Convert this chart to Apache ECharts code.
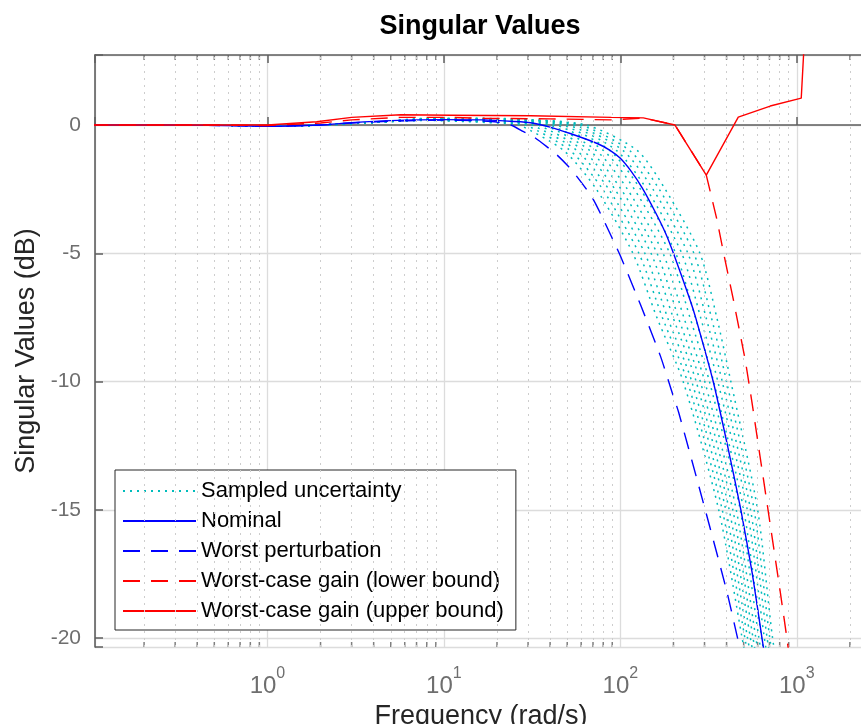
<!DOCTYPE html>
<html>
<head>
<meta charset="utf-8">
<title>Singular Values</title>
<script src="https://cdn.jsdelivr.net/npm/echarts@6/dist/echarts.min.js"></script>
<style>
html, body { margin: 0; padding: 0; background: #fff; }
#chart { width: 861px; height: 724px; }
</style>
</head>
<body>
<div id="chart"></div>
<script>
// frequencies in rad/s, magnitudes in dB
const nominal = [[0.1,0],[0.3,0],[0.7,-0.03],[1,-0.05],[2,0],[3,0.09],[5,0.17],[10,0.21],[17,0.2],[25,0.14],[31,0.09],
  [40,-0.08],[52,-0.33],[74,-0.72],[87,-0.98],[100,-1.3],[115,-1.8],[133,-2.45],[158,-3.4],[180,-4.2],[200,-5.0],
  [249,-6.84],[267,-7.5],[336,-10],[405,-12.5],[482,-15],[560,-17.5],[635,-20],[741,-23]]
const worstPert = [[0.1,0],[0.3,0],[0.7,-0.03],[1,-0.05],[2,0],[3,0.08],[5,0.15],[10,0.19],[15,0.17],[20,0.12],[24,0],
  [28.3,-0.26],[32.3,-0.46],[38.4,-0.85],[43.8,-1.17],[51,-1.63],[56.9,-2.02],[64.8,-2.54],[70.6,-2.93],[78.8,-3.58],
  [100,-5.1],[130,-7.0],[168.6,-9.0],[196,-10.4],[214,-11.2],[300,-14.9],[402,-18.2],[458,-19.9],[520,-21.5]]
const wcLower = [[0.1,0],[0.5,0],[1,-0.02],[2,0.08],[3,0.2],[5.7,0.3],[11,0.3],[17,0.26],[40,0.24],[90,0.2],[135,0.27],
  [204,0],[307,-1.95],[353,-3.7],[385,-5.0],[438,-6.84],[511,-9.18],[557,-10.8],[806,-18.2],[879,-20.0],[1000,-23]]
const wcUpper = [[0.1,0],[0.5,0],[1,0],[1.9,0.13],[3,0.3],[5.7,0.4],[11,0.38],[31,0.36],[89,0.3],[135,0.28],[204,0],
  [307,-1.95],[466,0.31],[707,0.74],[1060,1.05],[1600,24]]

// sampled uncertainty: common low-frequency part, then per-sample values
const sampleLowFreqs = [0.1, 0.5, 1, 2, 4]
const sampleLowVals = [0, 0, -0.05, 0, 0.1]
const sampleAt8 = [0.18, 0.2, 0.19, 0.22, 0.21, 0.23, 0.22, 0.24, 0.23, 0.25, 0.24, 0.26]
const sampleAt15 = [0.12, 0.14, 0.15, 0.17, 0.18, 0.2, 0.21, 0.22, 0.23, 0.24, 0.25, 0.26]
const sampleAt25 = [0.04, 0.07, 0.1, 0.12, 0.14, 0.16, 0.18, 0.19, 0.2, 0.22, 0.23, 0.24]
const sampleLevels = [0, -1, -2.5, -5, -7.5, -10, -15, -20, -23]
// frequency at which each sample reaches sampleLevels
const sampleCrossings = [
  [27.0, 47.9, 73.1, 117.8, 161, 227, 361, 490, 586],
  [29.3, 52.1, 79.3, 127.4, 173, 240, 378, 508, 607],
  [31.6, 56.8, 85.9, 137.7, 185, 254, 396, 526, 628],
  [34.2, 61.8, 93.1, 149.3, 199, 269, 414, 546, 650],
  [37.0, 67.3, 100.9, 161.4, 213, 284, 434, 565, 671],
  [40.0, 73.3, 109.6, 174.6, 229, 301, 454, 586, 695],
  [43.3, 80.5, 120, 190.5, 248, 320, 478, 610, 723],
  [46.8, 87.5, 130, 206, 266, 338, 500, 632, 748],
  [50.6, 95.3, 141, 222.8, 285, 357, 524, 655, 773],
  [54.7, 103.8, 153, 241.5, 306, 378, 547, 679, 800],
  [59.2, 113, 166, 261.2, 328, 400, 573, 703, 828],
  [64.0, 125, 179.5, 282.5, 352, 423, 600, 729, 857]
]

const minorTicks = [0.2,0.3,0.4,0.5,0.6,0.7,0.8,0.9, 2,3,4,5,6,7,8,9, 20,30,40,50,60,70,80,90,
  200,300,400,500,600,700,800,900, 2000]

const xMin = 0.1054, xMax = 2500
const yMin = -20.35, yMax = 2.73

const font = 'Liberation Sans'
const axisGray = '#5f5f5f'
const tickText = '#6e6e6e'
const dashed = [17, 11]

const chart = echarts.init(document.getElementById('chart'))

const series = []
sampleCrossings.forEach((row, i) => {
  const pts = sampleLowFreqs.map((f, k) => [f, sampleLowVals[k]])
  pts.push([8, sampleAt8[i]], [15, sampleAt15[i]], [25, sampleAt25[i]])
  row.forEach((f, k) => pts.push([f, sampleLevels[k]]))
  series.push({
    name: 'Sampled uncertainty', type: 'line', data: pts, symbol: 'none', z: 3,
    smooth: 0.25,
    lineStyle: { color: '#00bcbc', width: 1.5, type: [2, 5] }
  })
})
series.push({
  name: 'Nominal', type: 'line', data: nominal, symbol: 'none', z: 4,
  smooth: 0.2,
  lineStyle: { color: '#0000ff', width: 1.4 }
})
series.push({
  name: 'Worst perturbation', type: 'line', data: worstPert, symbol: 'none', z: 4,
  smooth: 0.2,
  lineStyle: { color: '#0000ff', width: 1.4, type: dashed }
})
series.push({
  name: 'Worst-case gain (lower bound)', type: 'line', data: wcLower, symbol: 'none', z: 5,
  lineStyle: { color: '#ff0000', width: 1.4, type: dashed }
})
series.push({
  name: 'Worst-case gain (upper bound)', type: 'line', data: wcUpper, symbol: 'none', z: 6,
  lineStyle: { color: '#ff0000', width: 1.4 }
})
// minor ticks (bottom and top) plus the dotted minor grid
series.push({
  type: 'scatter', silent: true, z: 2, clip: false,
  symbol: 'rect', symbolSize: [1.5, 5],
  data: minorTicks.map(v => ({ value: [v, yMin], symbolOffset: [0, -2.5] }))
    .concat(minorTicks.map(v => ({ value: [v, yMax], symbolOffset: [0, 2.5] }))),
  itemStyle: { color: axisGray },
  markLine: {
    silent: true, symbol: 'none', label: { show: false },
    lineStyle: { color: '#cdcdcd', width: 1, type: [2, 5] },
    data: minorTicks.map(v => ({ xAxis: v }))
  }
})

const xLabelFormatter = v => {
  const e = Math.log10(v)
  const r = Math.round(e)
  if (Math.abs(e - r) > 1e-6) return ''
  return '{b|10}{s|' + r + '}'
}

const option = {
  animation: false,
  backgroundColor: '#ffffff',
  title: {
    text: 'Singular Values', left: 475, top: 8, textAlign: 'center',
    textStyle: { fontFamily: font, fontSize: 27, fontWeight: 'bold', color: '#000' }
  },
  legend: {
    orient: 'vertical', left: 115, top: 470,
    data: ['Sampled uncertainty', 'Nominal', 'Worst perturbation',
      'Worst-case gain (lower bound)', 'Worst-case gain (upper bound)'],
    itemWidth: 73, itemHeight: 14, itemGap: 8, itemTextGap: 7,
    padding: [10, 12, 8, 7],
    itemStyle: { opacity: 0 },
    borderColor: '#262626', borderWidth: 1, backgroundColor: '#fff',
    textStyle: { fontFamily: font, fontSize: 22, color: '#000', lineHeight: 22 }
  },
  grid: { left: 95, top: 55, width: 772, height: 592, outerBoundsMode: 'none' },
  xAxis: [{
    type: 'log', logBase: 10, min: xMin, max: xMax, position: 'bottom',
    name: 'Frequency (rad/s)', nameLocation: 'middle', nameGap: 48,
    nameTextStyle: { fontFamily: font, fontSize: 27, color: '#262626' },
    axisLine: { lineStyle: { color: axisGray, width: 1.6 } },
    axisTick: { inside: true, length: 8, lineStyle: { color: axisGray, width: 1.5 } },
    axisLabel: {
      formatter: xLabelFormatter, margin: 19, color: tickText,
      rich: {
        b: { fontFamily: font, fontSize: 24, color: tickText, verticalAlign: 'bottom', lineHeight: 32 },
        s: { fontFamily: font, fontSize: 16, color: tickText, verticalAlign: 'top', lineHeight: 16 }
      }
    },
    splitLine: { show: true, lineStyle: { color: '#dcdcdc', width: 1.3 } }
  }, {
    type: 'log', logBase: 10, min: xMin, max: xMax, position: 'top',
    axisLine: { lineStyle: { color: axisGray, width: 1.6 } },
    axisTick: { inside: true, length: 8, lineStyle: { color: axisGray, width: 1.5 } },
    axisLabel: { show: false }, splitLine: { show: false }
  }],
  yAxis: {
    type: 'value', min: yMin, max: yMax,
    name: 'Singular Values (dB)', nameLocation: 'middle', nameGap: 52,
    nameTextStyle: { fontFamily: font, fontSize: 27, color: '#262626' },
    axisLine: { lineStyle: { color: axisGray, width: 1.6 } },
    axisTick: { inside: true, length: 8, lineStyle: { color: axisGray, width: 1.5 } },
    axisLabel: {
      fontFamily: font, fontSize: 21, color: tickText, margin: 14,
      formatter: v => (Math.abs(v - Math.round(v / 5) * 5) < 1e-6 ? String(Math.round(v)) : '')
    },
    splitLine: { show: true, lineStyle: { color: '#dcdcdc', width: 1.3 } }
  },
  series: series
}

chart.setOption(option)
</script>
</body>
</html>
